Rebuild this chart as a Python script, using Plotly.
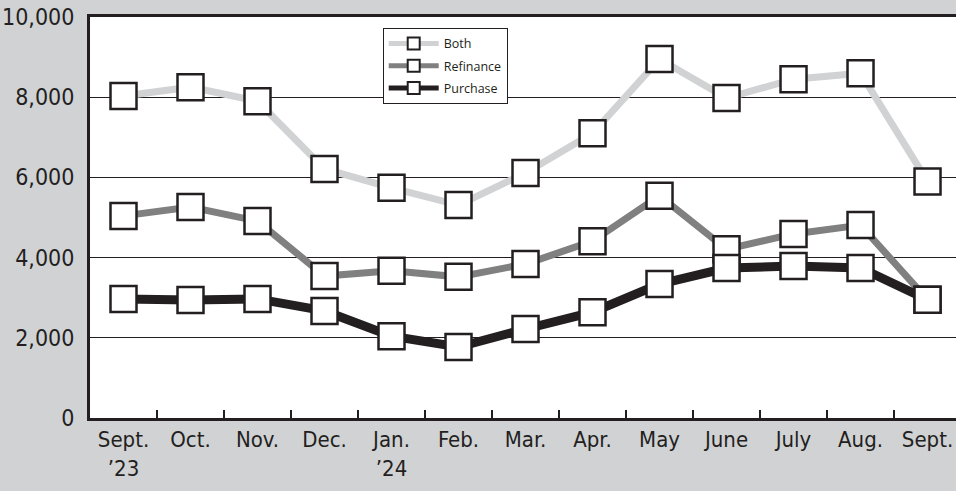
import plotly.graph_objects as go

months = ["Sept.<br>’23", "Oct.", "Nov.", "Dec.", "Jan.<br>’24", "Feb.", "Mar.",
          "Apr.", "May", "June", "July", "Aug.", "Sept."]
both = [8030, 8250, 7900, 6210, 5740, 5310, 6110, 7100, 8950, 7980, 8450, 8600, 5900]
refinance = [5040, 5260, 4910, 3540, 3670, 3520, 3840, 4410, 5540, 4210, 4590, 4810, 2950]
purchase = [2970, 2940, 2970, 2670, 2040, 1770, 2220, 2640, 3340, 3740, 3790, 3740, 2950]

dark = "#231f20"
cond = "DejaVu Sans Condensed, Liberation Sans Narrow, sans-serif"

fig = go.Figure()
series = [("Both", both, "#d1d2d4", 7), ("Refinance", refinance, "#808080", 7),
          ("Purchase", purchase, dark, 9)]
for name, vals, col, w in series:
    fig.add_trace(go.Scatter(
        x=months, y=vals, name=name, mode="lines+markers", legendgroup=name,
        line=dict(color=col, width=w),
        marker=dict(symbol="square", size=26, color="white",
                    line=dict(color=dark, width=2.5)),
    ))

fig.update_layout(
    width=956, height=491,
    margin=dict(l=90, r=0, t=17, b=73, autoexpand=False),
    paper_bgcolor="#d1d2d4", plot_bgcolor="white",
    font=dict(family=cond, color=dark, size=22),
    showlegend=True,
    legend=dict(x=0.338, y=0.973, xanchor="left", yanchor="top",
                bgcolor="white", bordercolor=dark, borderwidth=1,
                font=dict(family="Open Sans, sans-serif", size=12.5, color=dark),
                itemsizing="constant", tracegroupgap=3, itemwidth=50),
)
fig.update_xaxes(
    type="category", range=[-0.5, 12.425],
    showline=True, linewidth=3, linecolor=dark, mirror=True,
    ticks="inside", tickson="boundaries", ticklen=8, tickwidth=2, tickcolor=dark,
    showgrid=False, zeroline=False, automargin=False,
    tickfont=dict(family=cond, size=22),
)
fig.update_yaxes(
    range=[0, 10000], tickvals=[0, 2000, 4000, 6000, 8000, 10000],
    ticktext=["0", "2,000", "4,000", "6,000", "8,000", "10,000"],
    showline=True, linewidth=3, linecolor=dark,
    showgrid=True, gridcolor=dark, gridwidth=1, zeroline=False,
    ticks="", ticklabelstandoff=8, automargin=False,
    tickfont=dict(family=cond, size=23),
)
fig.write_html("out.html", config={"displayModeBar": False},
               post_script="document.body.style.margin='0';document.body.style.overflow='hidden';")
